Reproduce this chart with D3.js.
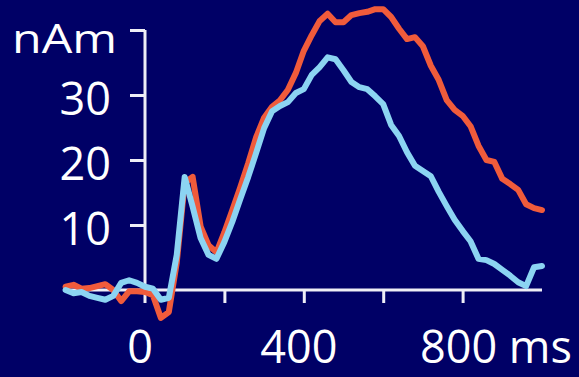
<!DOCTYPE html>
<html>
<head>
<meta charset="utf-8">
<script src="https://cdn.jsdelivr.net/npm/d3@7"></script>
<style>
    html, body { margin: 0; padding: 0; background: #000066; }
    svg { display: block; }
</style>
</head>
<body>
<div id="chart"></div>
<script>
// time in ms
const times = [-200, -180, -160, -140, -120, -100, -80, -60, -40, -20,
    0, 20, 40, 60, 80, 100, 120, 140, 160, 180,
    200, 220, 240, 260, 280, 300, 320, 340, 360, 380,
    400, 420, 440, 460, 480, 500, 520, 540, 560, 580,
    600, 620, 640, 660, 680, 700, 720, 740, 760, 780,
    800, 820, 840, 860, 880, 900, 920, 940, 960, 980, 1000];

// nAm, orange trace
const seriesA = [0.5, 0.8, 0.2, 0.3, 0.6, 0.9, 0.0, -1.7, -0.2, -0.2,
    -0.3, -0.8, -4.3, -3.4, 4.2, 16.5, 17.4, 9.8, 6.9, 5.8,
    8.9, 12.3, 15.8, 19.5, 23.5, 26.5, 28.2, 29.2, 30.8, 33.4,
    36.8, 39.2, 41.4, 42.5, 41.2, 41.2, 42.3, 42.6, 42.8, 43.2,
    43.2, 42.0, 40.2, 38.6, 38.9, 37.5, 34.5, 32.3, 29.2, 27.7,
    26.8, 25.2, 22.2, 20.0, 19.7, 17.1, 16.3, 15.4, 13.2, 12.6, 12.3];

// nAm, light blue trace
const seriesB = [0.0, -0.5, -0.3, -0.9, -1.2, -1.5, -0.9, 1.1, 1.5, 1.1,
    0.5, 0.2, -1.5, -1.2, 5.4, 17.4, 12.8, 8.0, 5.4, 4.8,
    7.4, 10.5, 14.0, 17.4, 21.1, 24.9, 27.5, 28.3, 28.9, 30.3,
    30.9, 33.1, 34.3, 35.8, 35.5, 33.8, 32.0, 31.2, 30.9, 29.8,
    28.6, 25.4, 23.7, 21.2, 19.1, 18.3, 17.5, 15.1, 12.9, 10.8,
    9.1, 7.5, 4.8, 4.6, 4.0, 3.1, 2.2, 1.2, 0.6, 3.5, 3.7];

const xTicks = [200, 400, 600, 800];
const xLabels = [0, 400, 800];
const yTicks = [10, 20, 30, 40];
const yLabels = [10, 20, 30];

function evokedChart(id) {
    const width = 579;
    const height = 377;
    const fontSize = 45;
    const font = "'Open Sans', sans-serif";

    const x = d3.scaleLinear()
        .domain([-200, 1000])
        .range([65.6, 542]);

    const y = d3.scaleLinear()
        .domain([0, 40])
        .range([290, 30]);

    const svg = d3.select("#" + id).append("svg")
        .attr("width", width)
        .attr("height", height)
        .attr("viewBox", [0, 0, width, height]);

    svg.append("rect")
        .attr("width", width)
        .attr("height", height)
        .attr("fill", "#000066");

    const axisColor = "#eeeef6";

    // x axis: baseline at zero, ticks pointing down
    const xAxis = g => g
        .attr("transform", `translate(0,${y(0)})`)
        .call(d3.axisBottom(x).tickValues(xTicks).tickSize(13).tickFormat(""))
        .call(g => g.select(".domain")
            .attr("d", `M${x(-200)},0H${x(1000)}`))
        .call(g => g.selectAll("path, line")
            .attr("stroke", axisColor)
            .attr("stroke-width", 3));

    // y axis: ticks pointing left, runs down through the x axis
    const yAxis = g => g
        .attr("transform", `translate(${x(0)},0)`)
        .call(d3.axisLeft(y).tickValues(yTicks).tickSize(15).tickFormat(""))
        .call(g => g.select(".domain")
            .attr("d", `M0,${y(40)}V${y(0) + 13}`))
        .call(g => g.selectAll("path, line")
            .attr("stroke", axisColor)
            .attr("stroke-width", 3));

    svg.append("g").call(xAxis);
    svg.append("g").call(yAxis);

    const line = d3.line()
        .x((d, i) => x(times[i]))
        .y(d => y(d));

    svg.append("path")
        .datum(seriesA)
        .attr("fill", "none")
        .attr("stroke", "#f05b3b")
        .attr("stroke-width", 6)
        .attr("stroke-linejoin", "round")
        .attr("stroke-linecap", "round")
        .attr("d", line);

    svg.append("path")
        .datum(seriesB)
        .attr("fill", "none")
        .attr("stroke", "#8cd4f2")
        .attr("stroke-width", 6)
        .attr("stroke-linejoin", "round")
        .attr("stroke-linecap", "round")
        .attr("d", line);

    // y tick labels
    svg.append("g")
        .selectAll("text")
        .data(yLabels)
        .join("text")
        .attr("x", 111)
        .attr("y", d => y(d))
        .attr("dy", "0.44em")
        .attr("text-anchor", "end")
        .attr("font-family", font)
        .attr("font-size", fontSize)
        .attr("fill", "white")
        .text(d => d);

    // unit at the top tick
    svg.append("text")
        .attr("x", 12)
        .attr("y", y(40) + 23)
        .attr("font-family", font)
        .attr("font-size", 40)
        .attr("textLength", 105)
        .attr("lengthAdjust", "spacingAndGlyphs")
        .attr("fill", "white")
        .text("nAm");

    // x tick labels
    const xl = svg.append("g")
        .selectAll("text")
        .data(xLabels)
        .join("text")
        .attr("x", d => x(d) - 5)
        .attr("y", 363)
        .attr("text-anchor", "middle")
        .attr("font-family", font)
        .attr("font-size", fontSize)
        .attr("fill", "white")
        .text(d => d);

    // the last label carries the unit, keep the number centred on its tick
    xl.filter(d => d === 800)
        .each(function(d) {
            const t = d3.select(this);
            const w = this.getComputedTextLength();
            t.attr("text-anchor", "start")
                .attr("x", x(d) - 4 - w / 2)
                .text(d + " ms");
        });
}

evokedChart("chart");
</script>
</body>
</html>
